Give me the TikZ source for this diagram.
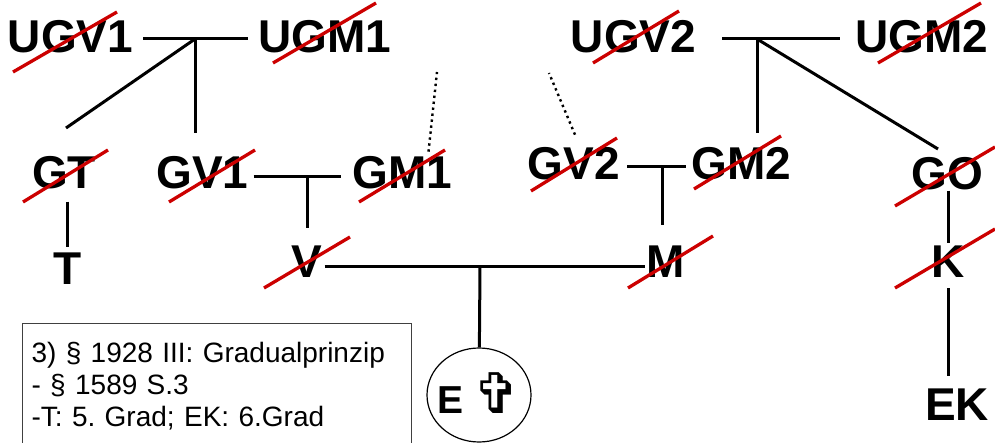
\documentclass[tikz,border=0pt]{standalone}
\usepackage{fontspec}
\setmainfont{Liberation Sans}
\newfontfamily\crossfont{DejaVu Sans}
\usepackage{xcolor}
\usepackage{tikz}
\usetikzlibrary{arrows.meta, positioning, shapes.geometric}

\definecolor{strikered}{RGB}{204,0,0}
\frenchspacing

\begin{document}
\begin{tikzpicture}[
  x=1pt, y=-1pt,
  person/.style={anchor=base, inner sep=0pt,
                 font=\fontsize{46}{50}\selectfont\bfseries},
  ln/.style={line width=3pt},
  strike/.style={draw=strikered, line width=3.3pt},
  dots/.style={line width=2.4pt, dash pattern=on 2.4pt off 3.6pt},
  notebox/.style={draw=black!75, line width=1.2pt, anchor=north west,
                  align=left, text width=371pt, inner xsep=9pt, inner ysep=19pt,
                  font=\fontsize{28}{32}\selectfont},
  deadbox/.style={draw, ellipse, line width=1.2pt, minimum width=104pt,
                  minimum height=94pt, inner sep=0pt,
                  font=\fontsize{39}{42}\selectfont\bfseries}
]
  \clip (0,0) rectangle (995,443);

  % great-grandparents
  \node[person] (ugv1) at (70.5,53) {UGV1};
  \node[person] (ugm1) at (324.5,53) {UGM1};
  \node[person] (ugv2) at (633.5,53) {UGV2};
  \node[person] (ugm2) at (922,53) {UGM2};
  % grandparents
  \node[person] (gt) at (64,189) {GT};
  \node[person] (gv1) at (202.5,189) {GV1};
  \node[person] (gm1) at (402.5,189) {GM1};
  \node[person] (gv2) at (574,180) {GV2};
  \node[person] (gm2) at (741.5,180) {GM2};
  \node[person] (go) at (947.5,190) {GO};
  % parents and relatives
  \node[person] (t) at (67.5,285) {T};
  \node[person] (v) at (307,278) {V};
  \node[person] (m) at (665.5,278) {M};
  \node[person] (k) at (948,278) {K};
  \node[person] (ek) at (957,420) {EK};
  \node[deadbox] (e) at (479,395)
    {\smash{\raisebox{-18pt}{\makebox[0pt]{E
      {\crossfont\mdseries\fontsize{56}{56}\selectfont ✞}}}}};

  \node[notebox] (note) at (22,323)
    {3) § 1928 III: Gradualprinzip\\- § 1589 S.3\\-T: 5. Grad; EK: 6.Grad};

  \coordinate (pa) at (195,39);
  \coordinate (pa1) at (195,133);
  \coordinate (pa2) at (66,128);
  \coordinate (pb) at (757,39);
  \coordinate (pb1) at (757,133);
  \coordinate (pb2) at (938,149);
  \coordinate (pc) at (307,177);
  \coordinate (pc1) at (307,228);
  \coordinate (pd) at (662,167);
  \coordinate (pd1) at (662,225);
  \coordinate (pe) at (480,267);
  \coordinate (qa) at (437,72);
  \coordinate (qb) at (549,73);

  % couples
  \draw[ln, shorten <=10pt, shorten >=10pt] (ugv1.east |- pa) -- (ugm1.west |- pa);
  \draw[ln, shorten <=26pt, shorten >=15pt] (ugv2.east |- pb) -- (ugm2.west |- pb);
  \draw[ln, shorten <=5pt, shorten >=11pt] (gv1.east |- pc) -- (gm1.west |- pc);
  \draw[ln, shorten <=7pt, shorten >=5pt] (gv2.east |- pd) -- (gm2.west |- pd);
  \draw[ln, shorten <=2pt, shorten >=1pt] (v.east |- pe) -- (m.west |- pe);

  % descent
  \draw[ln] (pa) -- (pa1);
  \draw[ln] (pa) -- (pa2);
  \draw[ln] (pb) -- (pb1);
  \draw[ln] (pb) -- (pb2);
  \draw[ln] (pc) -- (pc1);
  \draw[ln] (pd) -- (pd1);
  \draw[ln] (pe) -- (e);
  \draw[ln, shorten <=12pt, shorten >=6pt] (t |- gt.south) -- (t.north);
  \draw[ln, shorten >=3pt] (k |- go.south) -- (k.north);
  \draw[ln, shorten <=10pt, shorten >=12pt] (k.south) -- (k |- ek.north);

  \draw[dots] ([shift={(26,-5)}]gm1.north) -- (qa);
  \draw[dots] ([shift={(1,-13)}]gv2.north) -- (qb);

  % deceased
  \foreach \n/\ax/\ay/\bx/\by in {ugv1/-57.5/19/46.5/-41, ugm1/-51.5/10/51.5/-50,
      ugv2/-40.5/10/45.5/-42, ugm2/-44/10/59/-50, gt/-41/13/44/-39,
      gv1/-33.5/13/52.5/-39, gm1/-43.5/13/42.5/-39, gv2/-43/11/43/-42,
      gm2/-47.5/9/39.5/-44, go/-52.5/16/47.5/-43, v/-43/10/43/-41,
      m/-37.5/10/47.5/-42, k/-53/10/47/-49}
    \draw[strike] ([shift={(\ax,\ay)}]\n.base) -- ([shift={(\bx,\by)}]\n.base);
\end{tikzpicture}
\end{document}
